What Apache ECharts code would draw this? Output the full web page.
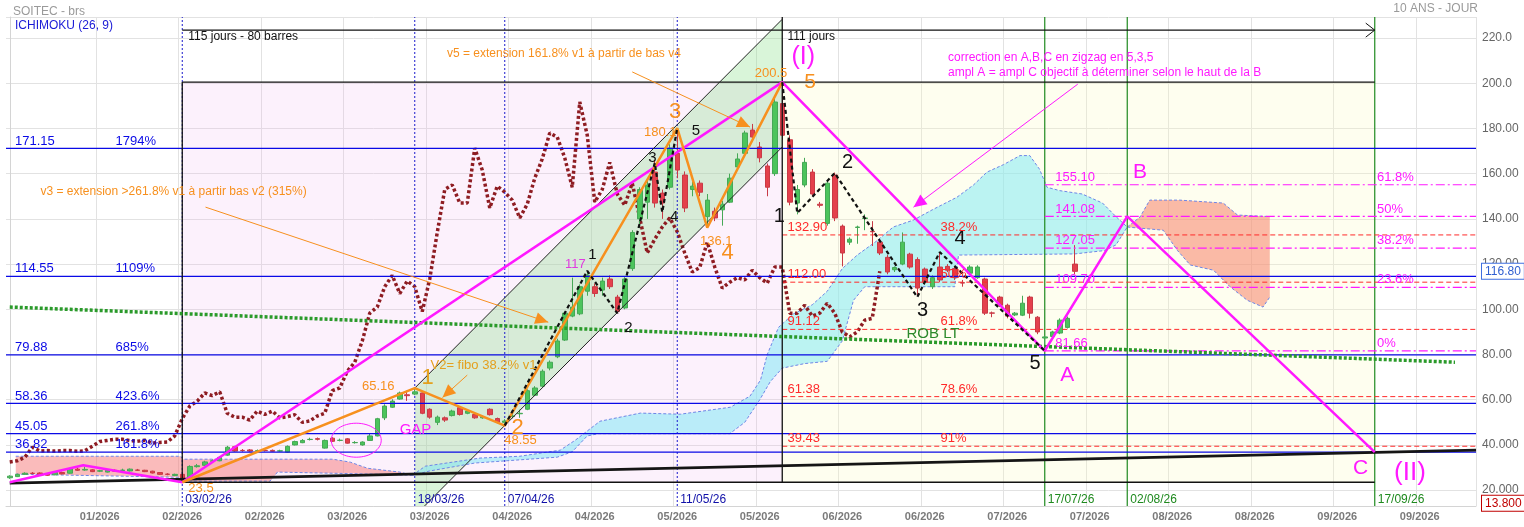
<!DOCTYPE html>
<html>
<head>
<meta charset="utf-8">
<title>SOITEC - brs</title>
<script src="https://cdn.jsdelivr.net/npm/echarts@6/dist/echarts.min.js"></script>
<style>
  html, body { margin: 0; padding: 0; background: #fff; }
  #main { width: 1524px; height: 527px; }
</style>
</head>
<body>
<div id="main"></div>
<script>
var N = 196;
var holidays = ['2026-01-01', '2026-04-03', '2026-04-06', '2026-05-01'];

// trading sessions (dd/mm/yy)
var dates = [];
(function () {
    var d = new Date(Date.UTC(2025, 11, 31));
    while (dates.length < N) {
        var iso = d.toISOString().slice(0, 10);
        var wd = d.getUTCDay();
        if (wd > 0 && wd < 6 && holidays.indexOf(iso) < 0) {
            dates.push(iso.slice(8, 10) + '/' + iso.slice(5, 7) + '/' + iso.slice(2, 4));
        }
        d.setUTCDate(d.getUTCDate() + 1);
    }
})();

// [open, close, low, high]
var ohlc = [
    [25.5, 26.2, 25.0, 26.6], [26.0, 27.0, 25.8, 27.3], [27.0, 27.5, 26.7, 27.9], [27.5, 27.4, 27.0, 28.0],
    [27.6, 26.8, 26.5, 27.9], [27.3, 26.6, 26.3, 27.6], [26.8, 27.8, 26.6, 28.1], [27.8, 27.2, 27.0, 28.2],
    [27.5, 29.4, 27.3, 29.7], [29.3, 28.8, 28.5, 30.0], [28.9, 29.2, 28.6, 30.4], [29.0, 28.2, 28.0, 29.3],
    [28.4, 28.6, 28.0, 29.0], [28.0, 28.8, 27.8, 29.1], [28.8, 28.4, 28.2, 29.2], [28.7, 28.9, 28.4, 29.5],
    [28.5, 29.3, 28.3, 29.6], [28.9, 28.8, 28.5, 29.4], [28.8, 28.2, 28.0, 29.0], [28.4, 27.6, 27.4, 28.6],
    [27.8, 27.0, 26.8, 28.0], [27.1, 27.0, 26.6, 27.5], [26.5, 27.0, 26.2, 27.3], [27.0, 24.5, 23.5, 27.2],
    [25.5, 30.5, 25.2, 31.0], [30.4, 30.8, 30.0, 31.6], [31.0, 32.5, 30.8, 33.0], [32.8, 33.0, 32.4, 33.6],
    [33.0, 34.5, 32.8, 35.0], [35.5, 39.0, 35.2, 39.6], [39.2, 37.3, 37.0, 39.6], [37.6, 37.5, 37.0, 38.2],
    [37.8, 37.3, 37.0, 38.2], [37.4, 37.5, 37.1, 38.0], [37.6, 37.5, 37.1, 38.0], [37.6, 37.2, 37.0, 38.0],
    [37.3, 37.4, 37.0, 37.9], [36.8, 39.4, 36.6, 39.8], [40.0, 41.5, 39.8, 41.9], [41.0, 42.0, 40.8, 42.6],
    [42.4, 42.5, 42.0, 43.2], [42.8, 42.5, 42.0, 43.3], [38.6, 42.0, 38.4, 42.4], [43.0, 41.6, 41.3, 43.4],
    [42.0, 42.1, 41.6, 42.8], [42.7, 40.8, 40.6, 43.0], [41.0, 41.1, 40.6, 41.7], [40.0, 41.3, 39.7, 41.6],
    [42.0, 44.0, 41.8, 45.2], [44.0, 51.6, 43.8, 52.0], [52.0, 57.2, 51.0, 58.0], [56.7, 59.4, 56.4, 60.2],
    [60.3, 63.0, 60.0, 63.6], [62.2, 61.8, 59.5, 64.0], [62.5, 63.5, 62.0, 65.16], [63.0, 54.0, 53.6, 63.2],
    [55.8, 52.3, 51.6, 56.2], [50.0, 52.3, 48.8, 53.0], [52.0, 51.0, 50.2, 52.6], [53.0, 55.0, 52.6, 55.6],
    [56.5, 53.5, 53.0, 57.0], [54.0, 55.0, 53.6, 55.6], [53.5, 52.0, 51.6, 54.0], [52.0, 52.5, 51.6, 53.0],
    [55.8, 53.4, 53.0, 56.2], [51.7, 50.0, 49.6, 52.1], [50.0, 50.6, 48.55, 51.4], [52.6, 52.8, 51.8, 53.8],
    [53.8, 54.0, 52.0, 55.6], [55.8, 64.0, 55.4, 64.6], [62.0, 65.2, 61.6, 66.0], [66.0, 72.6, 65.6, 73.4],
    [74.0, 76.6, 73.0, 77.4], [79.0, 86.0, 78.4, 87.0], [86.4, 98.3, 86.0, 99.0], [97.0, 101.0, 96.5, 114.0],
    [98.0, 110.0, 97.4, 111.0], [108.0, 115.0, 106.0, 117.0], [110.0, 107.0, 105.5, 111.4], [108.5, 112.5, 106.0, 114.0],
    [113.4, 110.0, 109.0, 115.0], [105.4, 99.0, 98.3, 106.4], [100.6, 113.4, 100.0, 114.2], [118.0, 134.0, 117.0, 135.0],
    [140.0, 153.0, 136.0, 154.0], [147.4, 155.0, 140.0, 157.0], [160.7, 147.0, 145.0, 166.0], [151.4, 147.0, 140.0, 153.0],
    [154.0, 171.3, 153.0, 173.0], [169.0, 161.6, 158.0, 180.1], [159.4, 144.8, 143.0, 161.0], [153.0, 154.5, 150.0, 156.5],
    [155.8, 151.8, 150.0, 157.0], [141.0, 148.3, 136.1, 151.0], [143.4, 140.4, 139.0, 145.0], [144.0, 146.5, 137.0, 148.0],
    [147.4, 158.0, 147.0, 160.0], [163.0, 166.5, 162.0, 169.0], [169.0, 178.0, 168.0, 179.0], [179.3, 176.2, 174.0, 182.0],
    [171.8, 167.0, 165.0, 174.0], [163.4, 154.0, 150.0, 164.5], [160.0, 191.7, 159.0, 193.0], [191.0, 177.0, 175.0, 200.5],
    [175.0, 147.4, 146.0, 177.0], [147.0, 153.0, 142.0, 155.0], [155.0, 165.0, 154.0, 167.0], [160.7, 151.0, 150.0, 162.0],
    [146.5, 146.0, 145.0, 147.5], [138.0, 155.8, 137.0, 157.0], [159.4, 140.4, 139.0, 160.5], [136.8, 124.9, 119.0, 137.5],
    [129.7, 131.0, 128.5, 131.8], [136.2, 136.4, 129.0, 137.0], [140.2, 140.4, 135.0, 142.0], [134.5, 134.3, 128.0, 139.0],
    [129.7, 124.9, 124.0, 130.5], [123.0, 116.5, 115.5, 124.0], [117.5, 118.5, 116.5, 119.0], [120.0, 129.7, 119.5, 134.0],
    [124.4, 118.7, 118.0, 125.0], [122.0, 109.4, 106.0, 123.0], [117.8, 112.0, 111.0, 118.5], [110.0, 114.0, 109.0, 115.0],
    [118.7, 113.0, 112.0, 125.3], [119.0, 117.3, 116.5, 120.0], [118.0, 114.0, 113.0, 119.0], [111.8, 111.6, 110.0, 113.0],
    [116.0, 118.7, 115.5, 119.5], [114.0, 118.7, 113.5, 119.5], [113.4, 98.3, 97.5, 114.0], [98.4, 98.3, 96.5, 99.0],
    [105.4, 101.8, 101.0, 106.0], [101.8, 97.0, 96.0, 102.5], [97.5, 98.3, 97.0, 98.8], [97.4, 102.7, 97.0, 106.0],
    [105.4, 98.3, 96.0, 106.0], [96.5, 90.0, 89.0, 97.0], [87.3, 87.8, 81.66, 88.3], [88.0, 90.0, 87.0, 90.5],
    [89.5, 95.2, 89.0, 96.0], [92.0, 96.0, 91.5, 96.8], [120.0, 116.8, 115.5, 128.4]
];

// ichimoku cloud edges [bar, value]
var kumoPinkTop = [[0.8, 35], [22.7, 35], [23.1, 33.7], [43.1, 33.7], [45.4, 32.4], [47.7, 29.7], [52, 28], [53.7, 26.6]];
var kumoPinkBottom = [[0.8, 27.1], [22.7, 25.7], [23.1, 24], [34.7, 24], [35.7, 28], [50, 27], [53.7, 26.6]];
var kumoCyanTop = [[53.7, 26.6], [55.4, 30.6], [62.7, 34.2], [68, 35], [73.4, 37.7], [75.4, 42.1], [78.7, 50.5], [84.1, 54.1],
    [89.4, 53.6], [96.1, 56.7], [98.7, 61.6], [100.1, 68.7], [101, 80], [102.5, 92], [104.5, 98], [107, 102], [109, 108],
    [111, 118], [113, 124], [115.5, 130], [117.8, 136.4], [120.5, 139.5], [123, 144], [126.3, 149.6], [128.5, 155],
    [130.3, 160.7], [132.5, 164], [134.7, 168], [136, 168], [137.3, 162], [138.3, 154], [140, 152.5], [143, 151],
    [145.7, 147], [147.5, 141], [149, 136.4]];
var kumoCyanBottom = [[53.7, 26.6], [56, 28.5], [62, 32], [73, 34.6], [75, 37], [77, 44], [78.5, 45], [96, 45], [98, 50],
    [100, 60], [101.4, 68], [103, 74], [106, 76], [109, 77], [111, 86], [112.5, 104], [114, 110], [126, 110], [126.5, 124],
    [142, 124.5], [146, 126], [147.5, 128.5], [149, 136.4]];
var kumoSalmonTop = [[149, 136.4], [150.7, 140.8], [152, 148.3], [156, 148.3], [161.8, 147], [163.7, 141.7], [168, 141]];
var kumoSalmonBottom = [[149, 136.4], [150.3, 136], [153.8, 135], [155.7, 126], [157.4, 119.6], [160.5, 117.3],
    [162.7, 110], [165, 104], [167.1, 101], [168, 105.4]];

// wave counts [bar, value]
var waveMain = [[0, 23.5], [9.8, 31], [23, 23.5], [103, 200.5], [138, 81.66], [149, 141.08], [182, 36.82]];
var waveOrange = [[23, 23.5], [54, 65.16], [66, 48.55], [89, 180.1], [93, 136.1], [103, 200.5]];
var subWaveUp = [[66, 48.55], [77, 117], [81, 98.3], [86, 164.7], [87, 143], [89, 180.1]];
var subWaveDown = [[103, 200.5], [105, 142.6], [110, 160.3], [121, 105.4], [124, 125.3], [138, 81.66]];
var channelUp = [[54, 65.16], [103, 228.3]];
var channelLow = [[55.3, 13], [103, 171.8]];
var robLT = [[0, 101], [192.7, 76.6]];
var supportLT = [[0, 23.1], [195.5, 37.7]];

// levels
var extLevels = [171.15, 114.55, 79.88, 58.36, 45.05, 36.82];
var extPct = ['1794%', '1109%', '685%', '423.6%', '261.8%', '161.8%'];
var retraceLevels = [132.90, 112.00, 91.12, 61.38, 39.43];
var retracePct = ['38.2%', '50%', '61.8%', '78.6%', '91%'];
var abcLevels = [155.10, 141.08, 127.05, 109.70, 81.66];
var abcPct = ['61.8%', '50%', '38.2%', '23.6%', '0%'];

var blueDays = ['03/02/26', '18/03/26', '07/04/26', '11/05/26'];
var greenDays = ['17/07/26', '02/08/26', '17/09/26'];

var yMin = 13, yMax = 229.3;

function dayIndex(s) {
    var t = Date.UTC(2000 + +s.slice(6, 8), +s.slice(3, 5) - 1, +s.slice(0, 2));
    for (var i = 0; i < dates.length; i++) {
        var q = dates[i];
        if (Date.UTC(2000 + +q.slice(6, 8), +q.slice(3, 5) - 1, +q.slice(0, 2)) >= t) return i;
    }
    return dates.length - 1;
}

var chikou = dates.map(function (d, i) { return ohlc[i + 26] ? ohlc[i + 26][1] : '-'; });
var lastClose = ohlc[ohlc.length - 1][1];

var FONT = '"Liberation Sans", Arial, sans-serif';
var ORANGE = '#f7901e', GOLD = '#e4a01e', MAG = '#ff19ff', BLUE = '#0a0ae6', RED = '#ff2a2a', GREEN = '#1f8a1f';

function pathSeries(pts, color, width, dash, z) {
    return {
        type: 'line', xAxisIndex: 1, data: pts, symbol: 'none', silent: true, z: z || 7,
        lineStyle: { color: color, width: width, type: dash || 'solid', cap: 'butt' }
    };
}

function segSeries(segs, style, z) {
    return {
        type: 'custom', xAxisIndex: 1, silent: true, z: z || 6, clip: true,
        data: segs, encode: { x: [0, 2], y: [1, 3] },
        renderItem: function (params, api) {
            var a = api.coord([api.value(0), api.value(1)]);
            var b = api.coord([api.value(2), api.value(3)]);
            return { type: 'line', shape: { x1: a[0], y1: a[1], x2: b[0], y2: b[1] }, style: style };
        }
    };
}

function arrowSeries(segs, color, open, z) {
    return {
        type: 'custom', xAxisIndex: 1, silent: true, z: z || 8, clip: false,
        data: segs, encode: { x: [0, 2], y: [1, 3] },
        renderItem: function (params, api) {
            var a = api.coord([api.value(0), api.value(1)]);
            var b = api.coord([api.value(2), api.value(3)]);
            var ang = Math.atan2(b[1] - a[1], b[0] - a[0]);
            var L = open ? 9 : 13, W = open ? 7 : 6;
            var bx = b[0] - L * Math.cos(ang), by = b[1] - L * Math.sin(ang);
            var p1 = [bx + W * Math.sin(ang), by - W * Math.cos(ang)];
            var p2 = [bx - W * Math.sin(ang), by + W * Math.cos(ang)];
            var head = open
                ? { type: 'polyline', shape: { points: [p1, b, p2] }, style: { stroke: color, lineWidth: 1, fill: null } }
                : { type: 'polygon', shape: { points: [p1, b, p2] }, style: { fill: color } };
            return {
                type: 'group', children: [
                    { type: 'line', shape: { x1: a[0], y1: a[1], x2: b[0], y2: b[1] }, style: { stroke: color, lineWidth: open ? 1.3 : 1 } },
                    head
                ]
            };
        }
    };
}

function areaSeries(pts, fill, z) {
    return {
        type: 'custom', xAxisIndex: 1, silent: true, z: z || 2, clip: true,
        data: [pts[0]],
        renderItem: function (params, api) {
            return {
                type: 'polygon',
                shape: { points: pts.map(function (p) { return api.coord(p); }) },
                style: { fill: fill }
            };
        }
    };
}

function textSeries(list, z) {
    return {
        type: 'custom', xAxisIndex: 1, silent: true, z: z || 10, clip: false,
        data: list.map(function (n, k) { return [n[0], n[1], k]; }),
        encode: { x: 0, y: 1 },
        renderItem: function (params, api) {
            var n = list[api.value(2)];
            var p = api.coord([api.value(0), api.value(1)]);
            var o = n[7] || {};
            return {
                type: 'text', x: p[0] + (o.dx || 0), y: p[1] + (o.dy || 0),
                style: {
                    text: n[2], fill: n[3], font: (o.bold ? 'bold ' : '') + n[4] + 'px ' + FONT,
                    textAlign: n[5] || 'left', textVerticalAlign: n[6] || 'middle',
                    backgroundColor: o.bg, borderColor: o.border, borderWidth: o.border ? 1 : 0,
                    padding: o.border ? [2, 3, 1, 3] : 0
                }
            };
        }
    };
}

// --- annotations
var notes = [
    [0.7, 225.3, 'ICHIMOKU (26, 9)', '#1a1ad6', 12],
    [23.8, 220.4, '115 jours - 80 barres', '#111', 12],
    [103.7, 220.4, '111 jours', '#111', 12],
    [105.8, 211.5, '(I)', MAG, 25, 'center'],
    [106.7, 200.5, '5', ORANGE, 21, 'center'],
    [58.3, 212.9, 'v5 = extension 161.8% v1 à partir de bas v4', ORANGE, 12],
    [4.1, 151.9, 'v3 = extension >261.8% v1 à partir bas v2 (315%)', ORANGE, 12],
    [125.1, 211.2, 'correction en A,B,C en zigzag en 5,3,5', MAG, 12],
    [125.1, 204.5, 'ampl A = ampl C objectif à déterminer selon le haut de la B', MAG, 12],
    [56.1, 75.3, 'V2= fibo 38.2% v1', GOLD, 13],
    [51.3, 65.8, '65.16', ORANGE, 13, 'right'],
    [55.7, 69.5, '1', GOLD, 22, 'center'],
    [67.7, 47.6, '2', ORANGE, 22, 'center'],
    [68.1, 42.1, '48.55', ORANGE, 13, 'center'],
    [88.7, 187.3, '3', ORANGE, 22, 'center'],
    [88.9, 178.4, '180.1', ORANGE, 13, 'right'],
    [95.7, 124.9, '4', ORANGE, 22, 'center'],
    [94.2, 130.2, '136.1', ORANGE, 13, 'center'],
    [101.5, 204.5, '200.5', ORANGE, 13, 'center'],
    [25.5, 20.9, '23.5', ORANGE, 13, 'center'],
    [75.4, 120, '117', '#e03be0', 13, 'center'],
    [77.7, 124, '1', '#111', 15, 'center'],
    [82.5, 92, '2', '#111', 15, 'center'],
    [85.7, 167, '3', '#111', 15, 'center'],
    [88.6, 140.8, '4', '#111', 15, 'center'],
    [91.5, 178.8, '5', '#111', 15, 'center'],
    [102.6, 141.2, '1', '#111', 20, 'center'],
    [111.7, 165.1, '2', '#111', 20, 'center'],
    [121.7, 99.6, '3', '#111', 20, 'center'],
    [126.7, 131.5, '4', '#111', 20, 'center'],
    [136.7, 76.2, '5', '#111', 20, 'center'],
    [141, 70.9, 'A', MAG, 21, 'center'],
    [150.7, 160.7, 'B', MAG, 21, 'center'],
    [180.1, 29.7, 'C', MAG, 21, 'center'],
    [186.7, 27.5, '(II)', MAG, 26, 'center'],
    [54.1, 46.5, 'GAP', MAG, 15, 'center'],
    [123.1, 89, 'ROB LT', '#2c8a2c', 15, 'center']
];
extLevels.forEach(function (v, k) {
    notes.push([0.7, v, v.toFixed(2), BLUE, 13, 'left', 'bottom', { dy: -1 }]);
    notes.push([14.1, v, extPct[k], BLUE, 13, 'left', 'bottom', { dy: -1 }]);
});
retraceLevels.forEach(function (v, k) {
    notes.push([103.7, v, v.toFixed(2), RED, 13, 'left', 'bottom', { dy: -1 }]);
    notes.push([124.1, v, retracePct[k], RED, 13, 'left', 'bottom', { dy: -1 }]);
});
abcLevels.forEach(function (v, k) {
    notes.push([139.4, v, v.toFixed(2), MAG, 13, 'left', 'bottom', { dy: -1 }]);
    notes.push([182.3, v, abcPct[k], MAG, 13, 'left', 'bottom', { dy: -1 }]);
});
blueDays.forEach(function (s) {
    notes.push([dayIndex(s), 15.9, s, '#1010a8', 12, 'left', 'middle', { dx: 3 }]);
});
greenDays.forEach(function (s) {
    notes.push([dayIndex(s), 15.9, s, GREEN, 12, 'left', 'middle', { dx: 3 }]);
});
notes.push([195.5, lastClose, lastClose.toFixed(2), '#2f5fd0', 12, 'left', 'middle', { dx: 6, bg: '#fff', border: '#3f6fe0' }]);
notes.push([195.5, 14.2, '13.800', '#c00000', 12, 'left', 'middle', { dx: 6, bg: '#fff', border: '#c00000' }]);

var i0 = dayIndex('03/02/26'), iTop = 103, iEnd = dayIndex('17/09/26');

var blackSegs = [
    [i0, 200.5, iEnd, 200.5], [i0, 23.5, iEnd, 23.5], [i0, 23.5, i0, 200.5], [iTop, 23.5, iTop, yMax],
    [i0, 223.5, iTop, 223.5]
];
var blueVSegs = blueDays.map(function (s) { var i = dayIndex(s); return [i, yMin, i, yMax]; });
var greenVSegs = greenDays.map(function (s) { var i = dayIndex(s); return [i, yMin, i, yMax]; });
var extSegs = extLevels.map(function (v) { return [-0.5, v, N - 0.5, v]; });
var retraceSegs = retraceLevels.map(function (v) { return [iTop, v, N - 0.5, v]; });
var abcSegs = abcLevels.map(function (v) { return [138, v, N - 0.5, v]; });

var chart = echarts.init(document.getElementById('main'));

var series = [
    areaSeries([[i0, 23.5], [iTop, 23.5], [iTop, 200.5], [i0, 200.5]], 'rgba(238,170,238,0.17)', 1),
    areaSeries([[iTop, 23.5], [iEnd, 23.5], [iEnd, 200.5], [iTop, 200.5]], 'rgba(250,250,190,0.25)', 1),
    areaSeries([[54, yMin], channelUp[0], channelUp[1], channelLow[1], channelLow[0]], 'rgba(140,225,140,0.33)', 2),
    areaSeries(kumoPinkTop.concat(kumoPinkBottom.slice().reverse()), 'rgba(246,120,120,0.5)', 3),
    areaSeries(kumoCyanTop.concat(kumoCyanBottom.slice().reverse()), 'rgba(120,232,245,0.5)', 3),
    areaSeries(kumoSalmonTop.concat(kumoSalmonBottom.slice().reverse()), 'rgba(245,130,105,0.55)', 3),
    pathSeries(kumoPinkTop, '#6f86e6', 1, [3, 2], 3),
    pathSeries(kumoPinkBottom, '#6f86e6', 1, [3, 2], 3),
    pathSeries(kumoCyanTop, '#6f86e6', 1, [3, 2], 3),
    pathSeries(kumoCyanBottom, '#6f86e6', 1, [3, 2], 3),
    pathSeries(kumoSalmonTop, '#6f86e6', 1, [3, 2], 3),
    pathSeries(kumoSalmonBottom, '#6f86e6', 1, [3, 2], 3),
    {
        name: 'Chikou', type: 'line', xAxisIndex: 0, data: chikou, symbol: 'none', silent: true, z: 4,
        lineStyle: { color: '#8e1c22', width: 3.5, type: [3, 2.5], cap: 'butt' }
    },
    {
        name: 'SOITEC', type: 'candlestick', xAxisIndex: 0, data: ohlc, barWidth: 5, z: 5,
        itemStyle: { color: '#4cc45c', color0: '#e4404c', borderColor: '#45a856', borderColor0: '#c83a46', borderWidth: 1 }
    },
    segSeries(blueVSegs, { stroke: '#1a1acc', lineWidth: 1, lineDash: [2, 2] }, 5),
    segSeries(greenVSegs, { stroke: GREEN, lineWidth: 1.2 }, 5),
    segSeries(extSegs, { stroke: BLUE, lineWidth: 1.3 }, 6),
    segSeries(retraceSegs, { stroke: RED, lineWidth: 1, lineDash: [5, 3] }, 6),
    segSeries(abcSegs, { stroke: MAG, lineWidth: 1.2, lineDash: [9, 3, 2, 3] }, 6),
    segSeries(blackSegs, { stroke: '#111', lineWidth: 1.3 }, 6),
    pathSeries(channelUp, '#222', 1, 'solid', 6),
    pathSeries(channelLow, '#222', 1, 'solid', 6),
    pathSeries(supportLT, '#151515', 2.6, 'solid', 6),
    pathSeries(robLT, '#2a9a2a', 3.5, [3, 2], 6),
    pathSeries(waveMain, MAG, 2.5, 'solid', 7),
    pathSeries(waveOrange, ORANGE, 2.5, 'solid', 7),
    pathSeries(subWaveUp, '#111', 2.2, [4, 3], 7),
    pathSeries(subWaveDown, '#111', 2.2, [4, 3], 7),
    arrowSeries([[26.1, 145.2, 71.8, 94.3], [83, 205, 98.7, 180.6], [61, 70.9, 57.7, 61]], ORANGE, false, 8),
    arrowSeries([[142.4, 199.6, 120.5, 145.2]], MAG, false, 8),
    arrowSeries([[iTop, 223.5, iEnd, 223.5]], '#111', true, 8),
    {
        type: 'custom', xAxisIndex: 1, silent: true, z: 8, data: [[46.2, 42.1]],
        renderItem: function (params, api) {
            var c = api.coord([api.value(0), api.value(1)]);
            return { type: 'ellipse', shape: { cx: c[0], cy: c[1], rx: 25, ry: 17 }, style: { stroke: MAG, fill: null, lineWidth: 1 } };
        }
    },
    textSeries(notes, 10)
];

chart.setOption({
    animation: false,
    backgroundColor: '#fff',
    title: {
        text: 'SOITEC - brs', left: 8, top: 1,
        textStyle: { color: '#9a9a9a', fontSize: 12, fontWeight: 'normal', fontFamily: FONT }
    },
    graphic: [{
        type: 'text', right: 46, top: 3,
        style: { text: '10 ANS - JOUR', fill: '#9a9a9a', font: '12px ' + FONT }
    }],
    grid: { left: 6, right: 48, top: 17, bottom: 21, containLabel: false },
    xAxis: [{
        type: 'category', data: dates, boundaryGap: true,
        axisLine: { lineStyle: { color: '#d4d4d4' } },
        axisTick: { show: false },
        axisLabel: {
            color: '#7a7a7a', fontSize: 11, fontWeight: 'bold', fontFamily: FONT, margin: 5,
            interval: function (i) { return i % 11 === 1 && i > 1; },
            formatter: function (v) { return v.slice(3, 5) + '/20' + v.slice(6, 8); }
        },
        splitLine: {
            show: true, interval: function (i) { return i % 11 === 1 && i > 1; },
            lineStyle: { color: '#e2e2e2' }
        }
    }, {
        type: 'value', min: -0.5, max: N - 0.5, show: false
    }],
    yAxis: {
        type: 'value', position: 'right', min: yMin, max: yMax, minInterval: 20, maxInterval: 20,
        axisLine: { show: true, lineStyle: { color: '#d4d4d4' } },
        axisTick: { show: false },
        axisLabel: {
            color: '#666', fontSize: 12, fontFamily: FONT, margin: 6, showMinLabel: false, showMaxLabel: false,
            formatter: function (v) { return v >= 200 ? v.toFixed(1) : (v > 40 ? v.toFixed(2) : v.toFixed(3)); }
        },
        splitLine: { lineStyle: { color: '#e2e2e2' } }
    },
    series: series
});
</script>
</body>
</html>
